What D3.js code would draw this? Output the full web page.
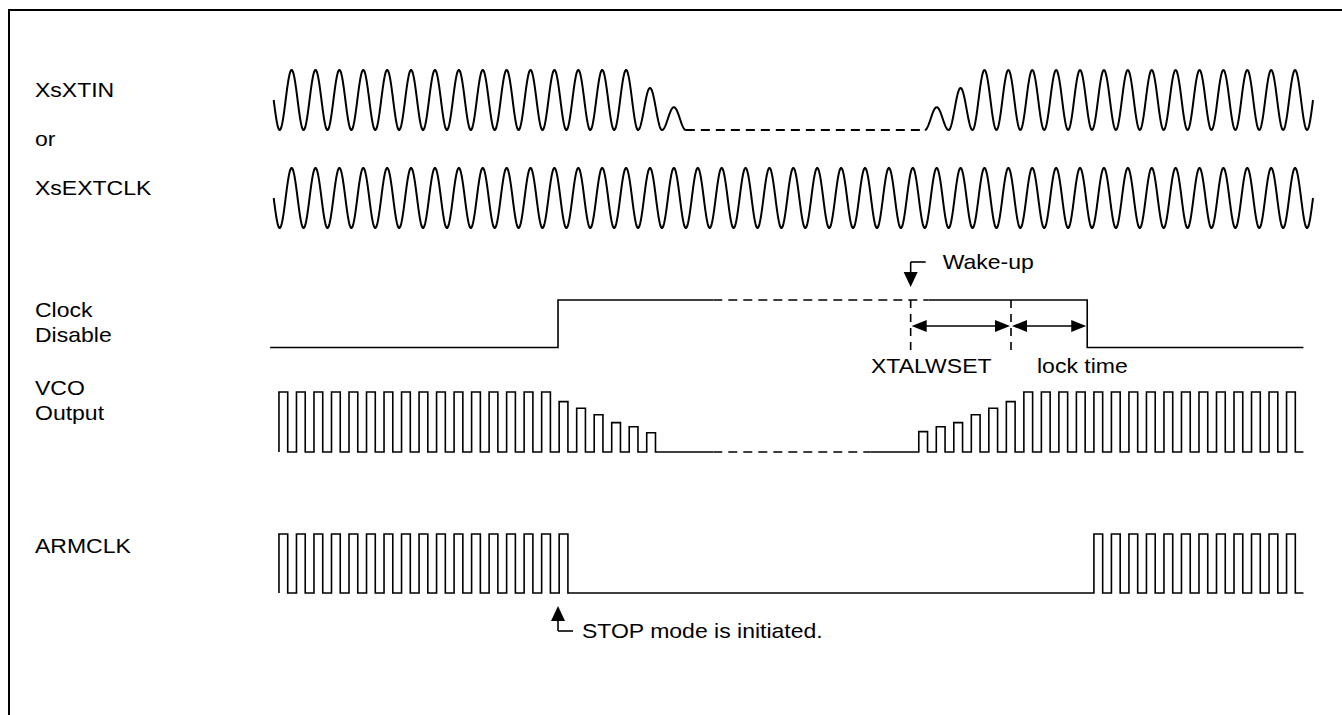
<!DOCTYPE html>
<html>
<head>
<meta charset="utf-8">
<script src="https://cdn.jsdelivr.net/npm/d3@7"></script>
<style>
  body { margin: 0; background: #fff; }
  text { font-family: "Liberation Sans", Arial, sans-serif; font-size: 20px; fill: #000; }
</style>
</head>
<body>
<svg width="1342" height="715"></svg>
<script>
// ---- data (time in oscillator cycles) ----
var signalNames = ["XsXTIN", "or", "XsEXTCLK", "Clock", "Disable", "VCO", "Output", "ARMCLK"];

// one entry per oscillator hump, 1 = full swing, 0 = stopped
var xtinAmp = [1,1,1,1,1,1,1,1,1,1,1,1,1,1,1, 0.7,0.38,
               0,0,0,0,0,0,0,0,0,0,
               0.38,0.7, 1,1,1,1,1,1,1,1,1,1,1,1,1,1];
var extclkAmp = [1,1,1,1,1,1,1,1,1,1,1,1,1,1,1,1,1,1,1,1,1,1,
                 1,1,1,1,1,1,1,1,1,1,1,1,1,1,1,1,1,1,1,1,1];

// VCO pulses: left burst runs down, right burst ramps up
var vcoPeriod = 0.733;
var vcoStart = [0.22, 27.0];
var vcoLeftAmp = [1,1,1,1,1,1,1,1,1,1,1,1,1,1,1,1, 0.84,0.73,0.62,0.49,0.42,0.32];
var vcoRightAmp = [0.34,0.42,0.49,0.62,0.73,0.84, 1,1,1,1,1,1,1,1,1,1,1,1,1,1,1,1];
var vcoGap = [18.4, 24.97];      // dashed part of the low level

// ARMCLK bursts
var armStart = [0.22, 34.33];
var armLeftAmp = [1,1,1,1,1,1,1,1,1,1,1,1,1,1,1,1,1];
var armRightAmp = [1,1,1,1,1,1,1,1,1,1,1,1];

// Clock Disable: start, rise (STOP), fall (end of lock), end
var clkDisEdges = [-0.15, 11.9, 34.05, 43.1];
var clkDisGap = [18.4, 27.4];
var wakeUp = 26.66;
var xtalwsetEnd = 30.86;
var traceEnd = 43.1;

// ---- drawing ----
var svg = d3.select("svg"),
    width = +svg.attr("width"),
    height = +svg.attr("height");

var x = d3.scaleLinear().domain([0, 43.5]).range([273.7, 1313]);

var yXtin = d3.scaleLinear().domain([0, 1]).range([130, 70]);
var yExt = d3.scaleLinear().domain([0, 1]).range([228, 168]);
var yDis = d3.scaleLinear().domain([0, 1]).range([347.5, 300]);
var yVco = d3.scaleLinear().domain([0, 1]).range([452, 392]);
var yArm = d3.scaleLinear().domain([0, 1]).range([593, 534]);

// frame
svg.append("rect")
    .attr("x", 9).attr("y", 10)
    .attr("width", width + 20).attr("height", height + 20)
    .attr("fill", "none").attr("stroke", "#000").attr("stroke-width", 2);

function lineFor(yS) {
  return d3.line().x(function(d){ return x(d[0]) }).y(function(d){ return yS(d[1]) });
}

function trace(pts, yS, dashed, sw) {
  svg.append("path")
      .attr("d", lineFor(yS)(pts))
      .attr("fill", "none")
      .attr("stroke", "#000")
      .attr("stroke-width", sw || 1.6)
      .attr("stroke-dasharray", dashed ? "9,6" : null);
}

// sine humps, trough to trough
function sineLevel(amps, t) {
  var i = Math.max(0, Math.min(amps.length - 1, Math.floor(t - 0.25)));
  return amps[i] * 0.5 * (1 - Math.cos(2 * Math.PI * (t - 0.25)));
}
function sinePts(amps, t0, t1) {
  var pts = d3.range(t0, t1, 0.02).map(function(t){ return [t, sineLevel(amps, t)] });
  pts.push([t1, sineLevel(amps, t1)]);
  return pts;
}

function pulsePts(start, amps, period) {
  var pts = [];
  amps.forEach(function(a, k) {
    var r = start + k * period, f = r + period / 2;
    pts.push([r, 0], [r, a], [f, a], [f, 0]);
  });
  return pts;
}

// XsXTIN: solid where it oscillates, dashed where it is stopped
var firstStop = xtinAmp.indexOf(0) + 0.25,
    lastStop = xtinAmp.lastIndexOf(0) + 1.25;
trace(sinePts(xtinAmp, 0, firstStop), yXtin, false, 2);
trace([[firstStop, 0], [lastStop, 0]], yXtin, true, 2);
trace(sinePts(xtinAmp, lastStop, 43.5), yXtin, false, 2);

// XsEXTCLK
trace(sinePts(extclkAmp, 0, 43.5), yExt, false, 2);

// Clock Disable
trace([[clkDisEdges[0], 0], [clkDisEdges[1], 0], [clkDisEdges[1], 1], [clkDisGap[0], 1]], yDis);
trace([[clkDisGap[0], 1], [clkDisGap[1], 1]], yDis, true);
trace([[clkDisGap[1], 1], [clkDisEdges[2], 1], [clkDisEdges[2], 0], [clkDisEdges[3], 0]], yDis);

// VCO Output
trace(pulsePts(vcoStart[0], vcoLeftAmp, vcoPeriod).concat([[vcoGap[0], 0]]), yVco);
trace([[vcoGap[0], 0], [vcoGap[1], 0]], yVco, true);
trace([[vcoGap[1], 0]].concat(pulsePts(vcoStart[1], vcoRightAmp, vcoPeriod), [[traceEnd, 0]]), yVco);

// ARMCLK
trace(pulsePts(armStart[0], armLeftAmp, vcoPeriod)
        .concat(pulsePts(armStart[1], armRightAmp, vcoPeriod), [[traceEnd, 0]]), yArm);

// arrow heads
function head(tx, ty, dir, len, hw) {
  var p;
  if (dir === "down") p = [[tx, ty], [tx - hw, ty - len], [tx + hw, ty - len]];
  if (dir === "up") p = [[tx, ty], [tx - hw, ty + len], [tx + hw, ty + len]];
  if (dir === "left") p = [[tx, ty], [tx + len, ty - hw], [tx + len, ty + hw]];
  if (dir === "right") p = [[tx, ty], [tx - len, ty - hw], [tx - len, ty + hw]];
  svg.append("path").attr("d", "M" + p.join("L") + "Z").attr("fill", "#000");
}
function seg(x1, y1, x2, y2, dashed) {
  svg.append("line")
      .attr("x1", x1).attr("y1", y1).attr("x2", x2).attr("y2", y2)
      .attr("stroke", "#000").attr("stroke-width", 1.6)
      .attr("stroke-dasharray", dashed ? "8,6" : null);
}

// wake-up marker
var xw = x(wakeUp), xs = x(xtalwsetEnd), xl = x(clkDisEdges[2]);
seg(xw, 262, xw, 274);
seg(xw, 262, xw + 15, 262);
head(xw, 287, "down", 15, 7);
seg(xw, yDis(1), xw, 350, true);
seg(xs, yDis(1), xs, 350, true);

// XTALWSET and lock time spans
var ya = 326;
seg(xw + 10, ya, xs - 10, ya);
head(xw + 1, ya, "left", 15, 6);
head(xs - 1, ya, "right", 15, 6);
seg(xs + 10, ya, xl - 10, ya);
head(xs + 1, ya, "left", 15, 6);
head(xl - 1, ya, "right", 15, 6);

// STOP marker
var xstop = x(clkDisEdges[1]);
head(xstop, 606, "up", 15, 7);
seg(xstop, 618, xstop, 631);
seg(xstop, 631, xstop + 15, 631);

// texts (stretched horizontally like the source figure)
function label(str, px, py) {
  svg.append("text")
      .attr("transform", "translate(" + px + "," + py + ") scale(1.15,1)")
      .text(str);
}
var labelY = [97, 146, 195, 317, 342, 395, 420, 553];
signalNames.forEach(function(s, i) { label(s, 35, labelY[i]); });
label("Wake-up", xw + 32, 269);
label("XTALWSET", 871, 373);
label("lock time", 1037, 373);
label("STOP mode is initiated.", xstop + 24, 638);
</script>
</body>
</html>
